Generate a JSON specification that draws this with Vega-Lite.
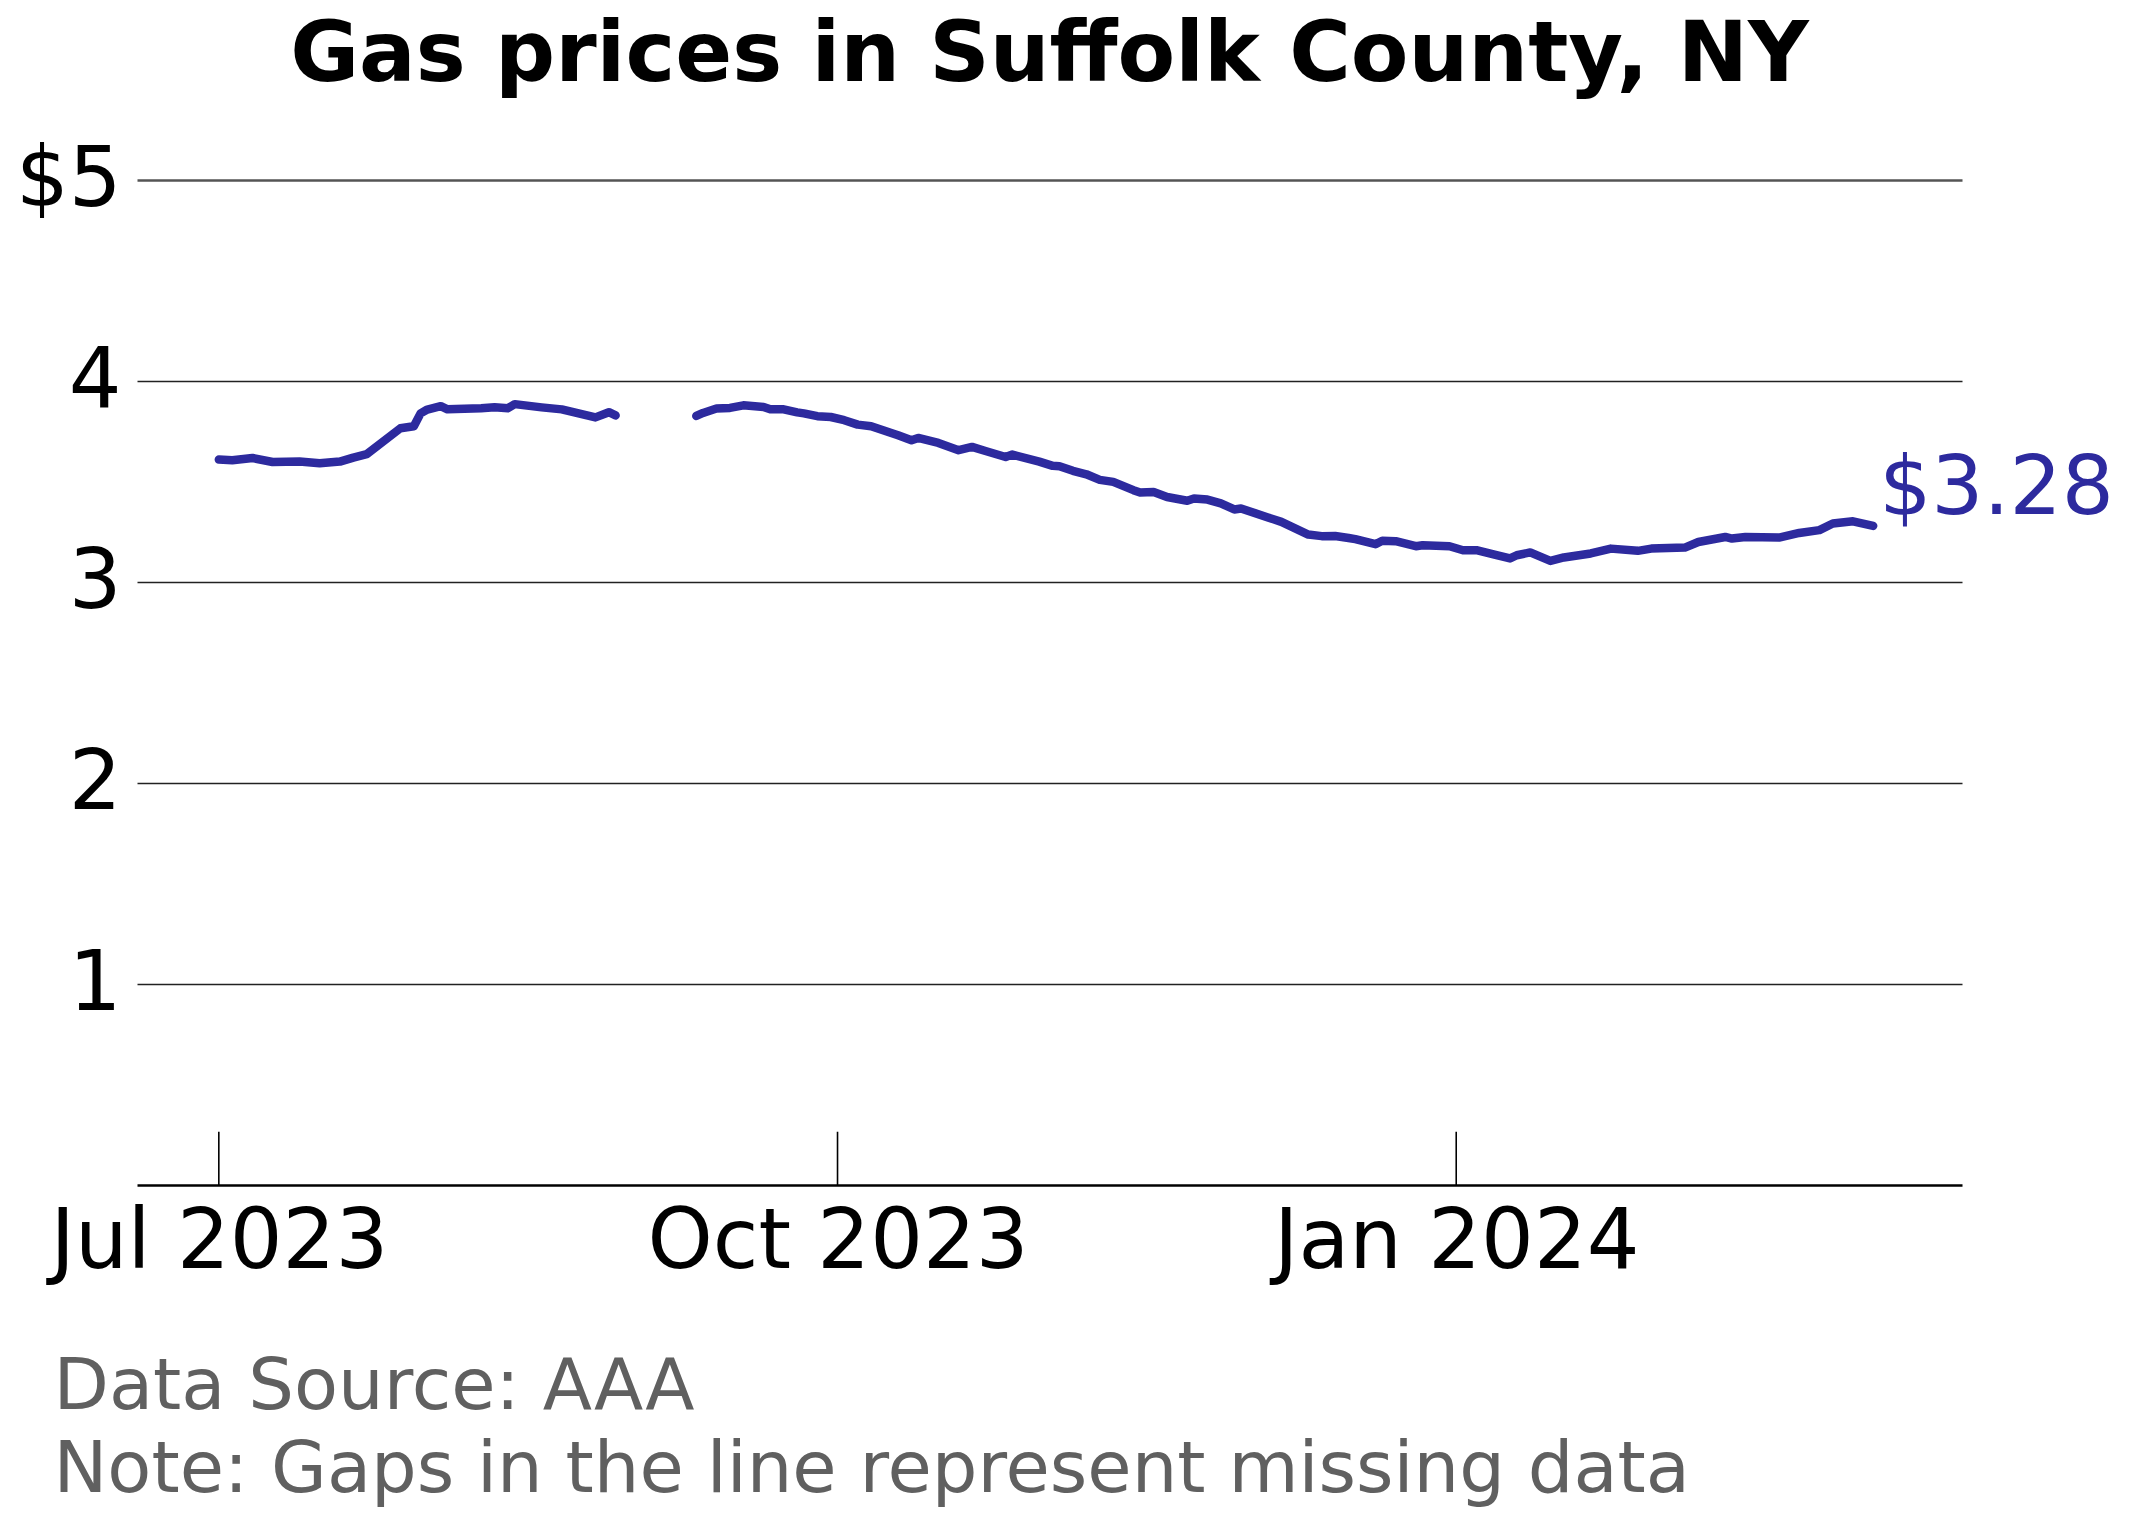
{
  "$schema": "https://vega.github.io/schema/vega-lite/v6.json",
  "autosize": {"type": "none"},
  "padding": {"left": 137, "top": 120, "right": 170, "bottom": 339},
  "width": 1825,
  "height": 1065,
  "background": "white",
  "title": {
    "text": "Gas prices in Suffolk County, NY",
    "font": "DejaVu Sans",
    "fontSize": 84,
    "fontWeight": "bold",
    "color": "black",
    "anchor": "middle",
    "baseline": "alphabetic",
    "offset": -45
  },
  "datasets": {
    "prices": [
      {"date": "2023-07-01", "price": 3.61, "segment": 1},
      {"date": "2023-07-03", "price": 3.607, "segment": 1},
      {"date": "2023-07-06", "price": 3.618, "segment": 1},
      {"date": "2023-07-09", "price": 3.598, "segment": 1},
      {"date": "2023-07-13", "price": 3.6, "segment": 1},
      {"date": "2023-07-16", "price": 3.592, "segment": 1},
      {"date": "2023-07-19", "price": 3.6, "segment": 1},
      {"date": "2023-07-21", "price": 3.62, "segment": 1},
      {"date": "2023-07-23", "price": 3.637, "segment": 1},
      {"date": "2023-07-28", "price": 3.766, "segment": 1},
      {"date": "2023-07-30", "price": 3.776, "segment": 1},
      {"date": "2023-07-31", "price": 3.84, "segment": 1},
      {"date": "2023-08-01", "price": 3.859, "segment": 1},
      {"date": "2023-08-03", "price": 3.876, "segment": 1},
      {"date": "2023-08-04", "price": 3.86, "segment": 1},
      {"date": "2023-08-09", "price": 3.866, "segment": 1},
      {"date": "2023-08-11", "price": 3.87, "segment": 1},
      {"date": "2023-08-13", "price": 3.866, "segment": 1},
      {"date": "2023-08-14", "price": 3.886, "segment": 1},
      {"date": "2023-08-18", "price": 3.87, "segment": 1},
      {"date": "2023-08-21", "price": 3.86, "segment": 1},
      {"date": "2023-08-26", "price": 3.82, "segment": 1},
      {"date": "2023-08-28", "price": 3.846, "segment": 1},
      {"date": "2023-08-29", "price": 3.83, "segment": 1},
      {"date": "2023-09-10", "price": 3.827, "segment": 2},
      {"date": "2023-09-11", "price": 3.842, "segment": 2},
      {"date": "2023-09-13", "price": 3.864, "segment": 2},
      {"date": "2023-09-15", "price": 3.867, "segment": 2},
      {"date": "2023-09-17", "price": 3.88, "segment": 2},
      {"date": "2023-09-20", "price": 3.872, "segment": 2},
      {"date": "2023-09-21", "price": 3.86, "segment": 2},
      {"date": "2023-09-23", "price": 3.86, "segment": 2},
      {"date": "2023-09-25", "price": 3.845, "segment": 2},
      {"date": "2023-09-26", "price": 3.84, "segment": 2},
      {"date": "2023-09-28", "price": 3.826, "segment": 2},
      {"date": "2023-09-30", "price": 3.822, "segment": 2},
      {"date": "2023-10-02", "price": 3.806, "segment": 2},
      {"date": "2023-10-04", "price": 3.784, "segment": 2},
      {"date": "2023-10-06", "price": 3.776, "segment": 2},
      {"date": "2023-10-10", "price": 3.731, "segment": 2},
      {"date": "2023-10-12", "price": 3.706, "segment": 2},
      {"date": "2023-10-13", "price": 3.718, "segment": 2},
      {"date": "2023-10-16", "price": 3.693, "segment": 2},
      {"date": "2023-10-19", "price": 3.657, "segment": 2},
      {"date": "2023-10-21", "price": 3.673, "segment": 2},
      {"date": "2023-10-23", "price": 3.653, "segment": 2},
      {"date": "2023-10-26", "price": 3.623, "segment": 2},
      {"date": "2023-10-27", "price": 3.635, "segment": 2},
      {"date": "2023-10-31", "price": 3.6, "segment": 2},
      {"date": "2023-11-02", "price": 3.579, "segment": 2},
      {"date": "2023-11-03", "price": 3.577, "segment": 2},
      {"date": "2023-11-05", "price": 3.554, "segment": 2},
      {"date": "2023-11-07", "price": 3.537, "segment": 2},
      {"date": "2023-11-09", "price": 3.509, "segment": 2},
      {"date": "2023-11-11", "price": 3.499, "segment": 2},
      {"date": "2023-11-14", "price": 3.458, "segment": 2},
      {"date": "2023-11-15", "price": 3.446, "segment": 2},
      {"date": "2023-11-17", "price": 3.449, "segment": 2},
      {"date": "2023-11-19", "price": 3.424, "segment": 2},
      {"date": "2023-11-22", "price": 3.405, "segment": 2},
      {"date": "2023-11-23", "price": 3.416, "segment": 2},
      {"date": "2023-11-25", "price": 3.411, "segment": 2},
      {"date": "2023-11-27", "price": 3.392, "segment": 2},
      {"date": "2023-11-29", "price": 3.362, "segment": 2},
      {"date": "2023-11-30", "price": 3.367, "segment": 2},
      {"date": "2023-12-04", "price": 3.322, "segment": 2},
      {"date": "2023-12-06", "price": 3.3, "segment": 2},
      {"date": "2023-12-10", "price": 3.237, "segment": 2},
      {"date": "2023-12-12", "price": 3.229, "segment": 2},
      {"date": "2023-12-14", "price": 3.23, "segment": 2},
      {"date": "2023-12-16", "price": 3.22, "segment": 2},
      {"date": "2023-12-17", "price": 3.214, "segment": 2},
      {"date": "2023-12-20", "price": 3.189, "segment": 2},
      {"date": "2023-12-21", "price": 3.206, "segment": 2},
      {"date": "2023-12-23", "price": 3.204, "segment": 2},
      {"date": "2023-12-26", "price": 3.179, "segment": 2},
      {"date": "2023-12-27", "price": 3.184, "segment": 2},
      {"date": "2023-12-31", "price": 3.179, "segment": 2},
      {"date": "2024-01-02", "price": 3.159, "segment": 2},
      {"date": "2024-01-04", "price": 3.159, "segment": 2},
      {"date": "2024-01-07", "price": 3.134, "segment": 2},
      {"date": "2024-01-09", "price": 3.118, "segment": 2},
      {"date": "2024-01-10", "price": 3.134, "segment": 2},
      {"date": "2024-01-12", "price": 3.148, "segment": 2},
      {"date": "2024-01-15", "price": 3.106, "segment": 2},
      {"date": "2024-01-17", "price": 3.123, "segment": 2},
      {"date": "2024-01-21", "price": 3.143, "segment": 2},
      {"date": "2024-01-24", "price": 3.167, "segment": 2},
      {"date": "2024-01-28", "price": 3.156, "segment": 2},
      {"date": "2024-01-30", "price": 3.167, "segment": 2},
      {"date": "2024-02-04", "price": 3.172, "segment": 2},
      {"date": "2024-02-06", "price": 3.2, "segment": 2},
      {"date": "2024-02-10", "price": 3.225, "segment": 2},
      {"date": "2024-02-11", "price": 3.217, "segment": 2},
      {"date": "2024-02-13", "price": 3.225, "segment": 2},
      {"date": "2024-02-18", "price": 3.222, "segment": 2},
      {"date": "2024-02-21", "price": 3.245, "segment": 2},
      {"date": "2024-02-24", "price": 3.259, "segment": 2},
      {"date": "2024-02-26", "price": 3.292, "segment": 2},
      {"date": "2024-02-29", "price": 3.303, "segment": 2},
      {"date": "2024-03-03", "price": 3.28, "segment": 2}
    ],
    "ticks": [
      {"date": "2023-07-01"},
      {"date": "2023-10-01"},
      {"date": "2024-01-01"}
    ]
  },
  "layer": [
    {
      "data": {"name": "ticks"},
      "mark": {"type": "rule", "color": "black", "strokeWidth": 1.6},
      "encoding": {
        "x": {"field": "date", "type": "temporal"},
        "y": {"datum": 0},
        "y2": {"datum": 0.265}
      }
    },
    {
      "data": {"name": "prices"},
      "mark": {"type": "line", "color": "#2d2a9e", "strokeWidth": 8.5, "strokeCap": "round", "strokeJoin": "round"},
      "encoding": {
        "x": {
          "field": "date",
          "type": "temporal",
          "scale": {
            "type": "utc",
            "domain": [
              {"year": 2023, "month": 6, "date": 18, "hours": 20, "utc": true},
              {"year": 2024, "month": 3, "date": 16, "hours": 5, "utc": true}
            ]
          },
          "axis": {
            "values": [
              {"year": 2023, "month": 7, "date": 1, "utc": true},
              {"year": 2023, "month": 10, "date": 1, "utc": true},
              {"year": 2024, "month": 1, "date": 1, "utc": true}
            ],
            "labelExpr": "utcFormat(datum.value, '%b %Y')",
            "labelLimit": 1000,
            "grid": false,
            "ticks": false,
            "domain": true,
            "domainColor": "black",
            "domainWidth": 2.7,
            "labelFont": "DejaVu Sans",
            "labelFontSize": 83,
            "labelColor": "black",
            "labelPadding": 16,
            "labelFlush": false,
            "labelOverlap": false,
            "title": ["Data Source: AAA", "Note: Gaps in the line represent missing data"],
            "titleFont": "DejaVu Sans",
            "titleFontSize": 72,
            "titleFontWeight": "normal",
            "titleColor": "#606060",
            "titleAnchor": "start",
            "titleAlign": "left",
            "titleBaseline": "alphabetic",
            "titleLineHeight": 83,
            "titleLimit": 3000,
            "titleX": -84,
            "titleY": 223
          }
        },
        "y": {
          "field": "price",
          "type": "quantitative",
          "scale": {"domain": [0, 5.3], "nice": false, "zero": false},
          "axis": {
            "values": [1, 2, 3, 4, 5],
            "labelExpr": "datum.value == 5 ? '$5' : format(datum.value, 'd')",
            "domain": false,
            "ticks": false,
            "grid": true,
            "gridColor": {"condition": {"test": "datum.value == 5", "value": "#555555"}, "value": "#222222"},
            "gridWidth": {"condition": {"test": "datum.value == 5", "value": 2.7}, "value": 1.3},
            "labelFont": "DejaVu Sans",
            "labelFontSize": 83,
            "labelColor": "black",
            "labelPadding": 16,
            "labelLimit": 1000,
            "title": null
          }
        },
        "detail": {"field": "segment", "type": "nominal"}
      }
    },
    {
      "data": {"name": "prices"},
      "transform": [{"filter": "time(datum.date) == time(utc(2024, 2, 3))"}],
      "mark": {"type": "text", "color": "#2d2a9e", "font": "DejaVu Sans", "fontSize": 82, "align": "left", "baseline": "alphabetic", "dx": 6, "dy": -12},
      "encoding": {
        "x": {"field": "date", "type": "temporal"},
        "y": {"field": "price", "type": "quantitative"},
        "text": {"field": "price", "type": "quantitative", "format": "$.2f"}
      }
    }
  ],
  "config": {
    "view": {"stroke": null},
    "axis": {"labelFont": "DejaVu Sans"}
  }
}
